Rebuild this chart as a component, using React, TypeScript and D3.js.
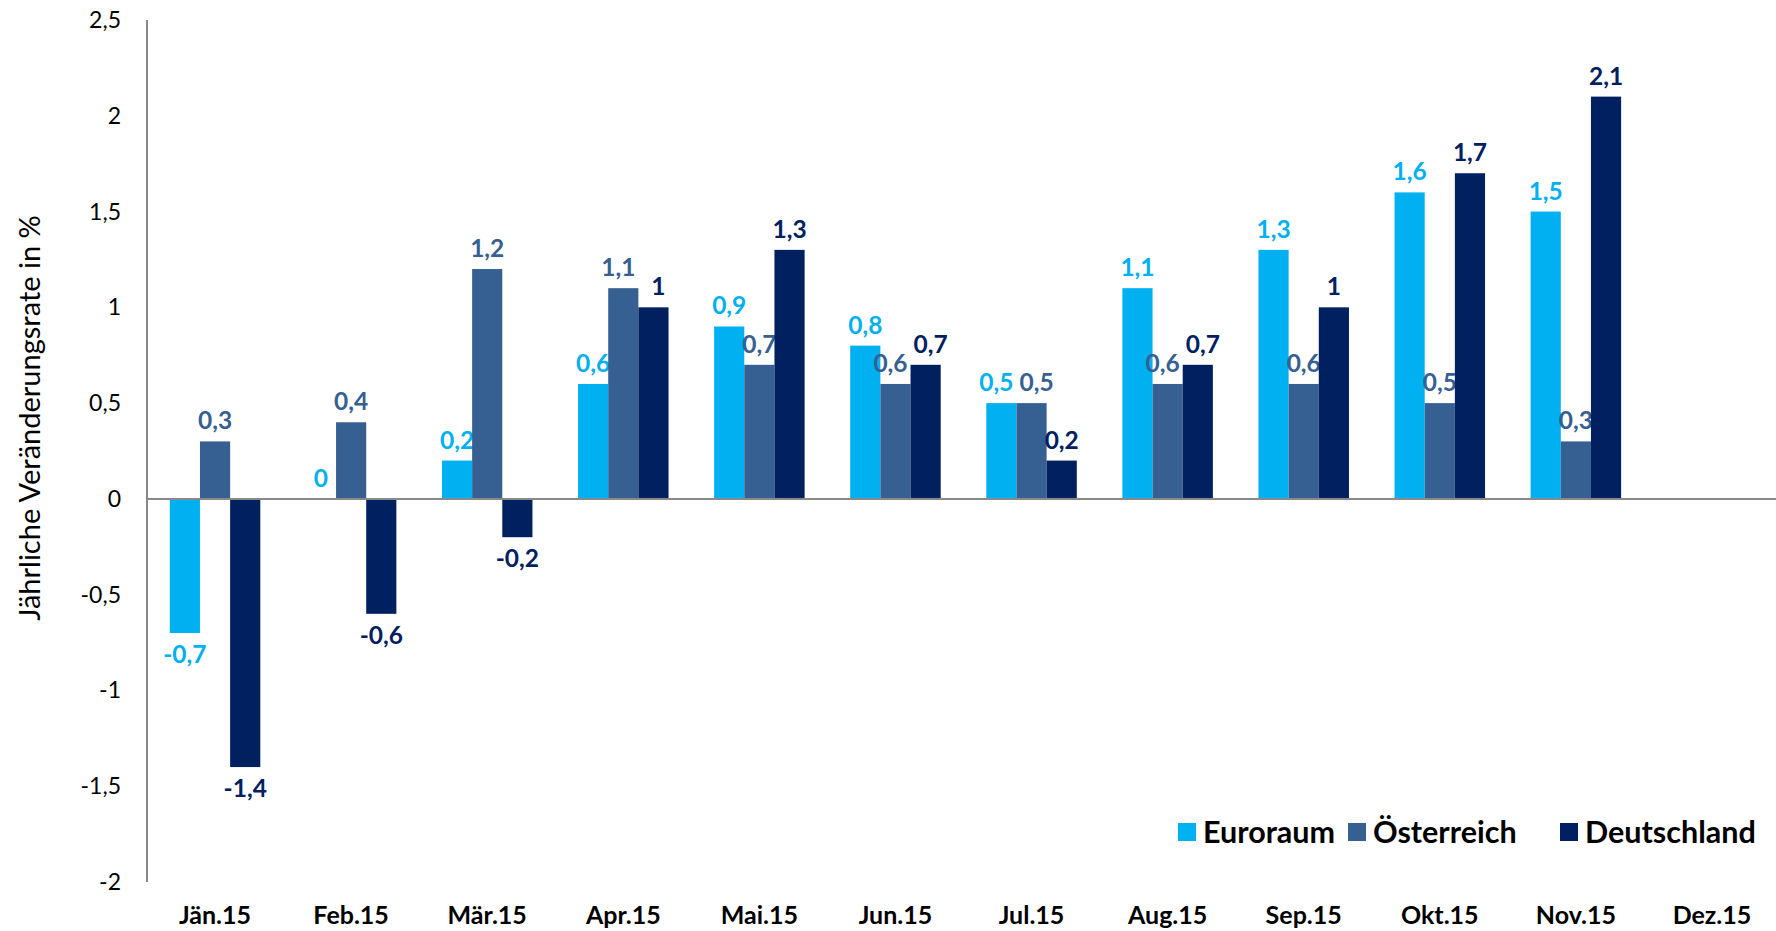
import React, { useEffect, useRef } from "react";
import * as d3 from "d3";

const months = ["Jän.15", "Feb.15", "Mär.15", "Apr.15", "Mai.15", "Jun.15", "Jul.15", "Aug.15", "Sep.15", "Okt.15", "Nov.15", "Dez.15"];
const euroraum = [-0.7, 0, 0.2, 0.6, 0.9, 0.8, 0.5, 1.1, 1.3, 1.6, 1.5, null];
const oesterreich = [0.3, 0.4, 1.2, 1.1, 0.7, 0.6, 0.5, 0.6, 0.6, 0.5, 0.3, null];
const deutschland = [-1.4, -0.6, -0.2, 1.0, 1.3, 0.7, 0.2, 0.7, 1.0, 1.7, 2.1, null];
const seriesNames = ["Euroraum", "Österreich", "Deutschland"];
const seriesColors = ["#00B0F0", "#376092", "#002060"];
const yTicks = [-2, -1.5, -1, -0.5, 0, 0.5, 1, 1.5, 2, 2.5];

const fmt = (v: number) => String(v).replace(".", ",");

const App = () => {
  const svgRef = useRef<SVGSVGElement>(null);

  useEffect(() => {
    const width = 1776;
    const height = 931;
    const svg = d3.select(svgRef.current).attr("width", width).attr("height", height);
    svg.selectAll("*").remove();

    const font = "Lato, 'Open Sans', sans-serif";
    const values = [euroraum, oesterreich, deutschland];

    const x = d3.scaleBand<string>().domain(months).range([147, 1780]);
    const inner = d3
      .scaleBand<number>()
      .domain([0, 1, 2])
      .range([0, x.bandwidth() * 0.665]);
    const groupOffset = (x.bandwidth() - x.bandwidth() * 0.665) / 2;
    const y = d3.scaleLinear().domain([-2, 2.5]).range([882, 20]);

    // y tick labels
    svg
      .append("g")
      .selectAll("text")
      .data(yTicks)
      .join("text")
      .attr("x", 121)
      .attr("y", (d) => y(d))
      .attr("dy", "0.35em")
      .attr("text-anchor", "end")
      .style("font-family", font)
      .style("font-size", "23px")
      .style("fill", "#000")
      .text((d) => fmt(d));

    // axis title
    svg
      .append("text")
      .attr("transform", `translate(40, 418) rotate(-90)`)
      .attr("text-anchor", "middle")
      .style("font-family", font)
      .style("font-size", "29px")
      .style("fill", "#000")
      .text("Jährliche Veränderungsrate in %");

    // label nudges: push apart neighbouring labels that sit at almost the same height
    const nudge = values.map(() => months.map(() => 0));
    months.forEach((_, i) => {
      for (let s = 0; s < 2; s++) {
        const a = values[s][i];
        const b = values[s + 1][i];
        if (a === null || b === null) continue;
        if (a >= 0 && b >= 0 && Math.abs(a - b) < 0.15) {
          nudge[s][i] -= 5;
          nudge[s + 1][i] += 5;
        }
      }
    });

    // bars
    values.forEach((vals, si) => {
      const g = svg.append("g");
      const data = months
        .map((m, i) => ({ m, i, v: vals[i] }))
        .filter((d) => d.v !== null) as { m: string; i: number; v: number }[];
      g.selectAll("rect")
        .data(data)
        .join("rect")
        .attr("x", (d) => (x(d.m) as number) + groupOffset + (inner(si) as number))
        .attr("width", inner.bandwidth())
        .attr("y", (d) => Math.min(y(d.v), y(0)))
        .attr("height", (d) => Math.abs(y(d.v) - y(0)))
        .style("fill", seriesColors[si]);

      g.selectAll("text")
        .data(data)
        .join("text")
        .attr("x", (d) => (x(d.m) as number) + groupOffset + (inner(si) as number) + inner.bandwidth() / 2 + nudge[si][d.i])
        .attr("y", (d) => (d.v < 0 ? y(d.v) + 30 : y(d.v) - 12))
        .attr("text-anchor", "middle")
        .style("font-family", font)
        .style("font-weight", "bold")
        .style("font-size", "24.5px")
        .style("fill", seriesColors[si])
        .text((d) => fmt(d.v));
    });

    // axes lines
    svg
      .append("line")
      .attr("x1", 147)
      .attr("x2", width)
      .attr("y1", y(0))
      .attr("y2", y(0))
      .style("stroke", "#898989")
      .style("stroke-width", 2);
    svg
      .append("line")
      .attr("x1", 147)
      .attr("x2", 147)
      .attr("y1", y(2.5))
      .attr("y2", y(-2))
      .style("stroke", "#898989")
      .style("stroke-width", 2);

    // x labels
    svg
      .append("g")
      .selectAll("text")
      .data(months)
      .join("text")
      .attr("x", (d) => (x(d) as number) + x.bandwidth() / 2)
      .attr("y", 924)
      .attr("text-anchor", "middle")
      .style("font-family", font)
      .style("font-weight", "bold")
      .style("font-size", "25px")
      .style("fill", "#000")
      .text((d) => d);

    // legend
    const legendX = [1178, 1348, 1560];
    const lg = svg.append("g");
    seriesNames.forEach((name, i) => {
      lg.append("rect")
        .attr("x", legendX[i])
        .attr("y", 823)
        .attr("width", 18)
        .attr("height", 18)
        .style("fill", seriesColors[i]);
      lg.append("text")
        .attr("x", legendX[i] + 25)
        .attr("y", 843)
        .style("font-family", font)
        .style("font-weight", "bold")
        .style("font-size", "30.5px")
        .style("fill", "#000")
        .text(name);
    });
  }, []);

  return <svg ref={svgRef} style={{ position: "absolute", left: 0, top: 0 }}></svg>;
};

export default App;
